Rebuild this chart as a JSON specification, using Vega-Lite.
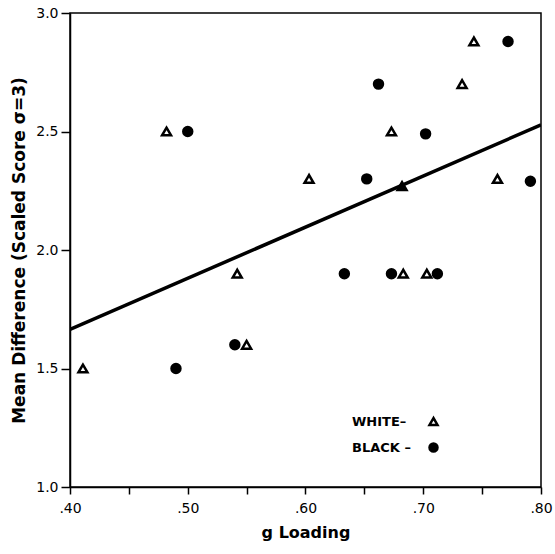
{
  "$schema": "https://vega.github.io/schema/vega-lite/v6.json",
  "width": 471,
  "height": 474,
  "autosize": {"type": "none"},
  "padding": {"left": 70, "top": 13, "right": 14, "bottom": 67},
  "background": "white",
  "config": {
    "view": {"stroke": "black", "strokeWidth": 1.5},
    "font": "DejaVu Sans",
    "legend": {
      "title": null,
      "orient": "none",
      "legendX": 357,
      "legendY": 402,
      "padding": 0,
      "labelFont": "DejaVu Sans",
      "labelFontSize": 13,
      "labelFontWeight": "bold",
      "labelColor": "black",
      "symbolOffset": 0,
      "labelOffset": -88,
      "labelAlign": "left",
      "rowPadding": 8,
      "symbolSize": 64,
      "symbolStrokeColor": "black",
      "symbolStrokeWidth": 2.5
    }
  },
  "datasets": {
    "pts": [
      {"x": 0.411, "y": 1.50, "group": "WHITE"},
      {"x": 0.482, "y": 2.50, "group": "WHITE"},
      {"x": 0.542, "y": 1.90, "group": "WHITE"},
      {"x": 0.550, "y": 1.60, "group": "WHITE"},
      {"x": 0.603, "y": 2.30, "group": "WHITE"},
      {"x": 0.673, "y": 2.50, "group": "WHITE"},
      {"x": 0.683, "y": 1.90, "group": "WHITE"},
      {"x": 0.682, "y": 2.27, "group": "WHITE"},
      {"x": 0.703, "y": 1.90, "group": "WHITE"},
      {"x": 0.733, "y": 2.70, "group": "WHITE"},
      {"x": 0.743, "y": 2.88, "group": "WHITE"},
      {"x": 0.763, "y": 2.30, "group": "WHITE"},
      {"x": 0.490, "y": 1.50, "group": "BLACK"},
      {"x": 0.500, "y": 2.50, "group": "BLACK"},
      {"x": 0.540, "y": 1.60, "group": "BLACK"},
      {"x": 0.633, "y": 1.90, "group": "BLACK"},
      {"x": 0.652, "y": 2.30, "group": "BLACK"},
      {"x": 0.662, "y": 2.70, "group": "BLACK"},
      {"x": 0.673, "y": 1.90, "group": "BLACK"},
      {"x": 0.702, "y": 2.49, "group": "BLACK"},
      {"x": 0.712, "y": 1.90, "group": "BLACK"},
      {"x": 0.772, "y": 2.88, "group": "BLACK"},
      {"x": 0.791, "y": 2.29, "group": "BLACK"}
    ],
    "fit": [
      {"x": 0.40, "y": 1.665},
      {"x": 0.80, "y": 2.528}
    ]
  },
  "encoding": {
    "x": {
      "field": "x",
      "type": "quantitative",
      "scale": {"domain": [0.4, 0.8], "nice": false, "zero": false},
      "axis": {
        "title": "g Loading",
        "values": [0.40, 0.45, 0.50, 0.55, 0.60, 0.65, 0.70, 0.75, 0.80],
        "labelExpr": "round(datum.value * 100) % 10 == 0 ? substring(format(datum.value, '.2f'), 1) : ''",
        "grid": false,
        "domainColor": "black",
        "domainWidth": 1.5,
        "tickColor": "black",
        "tickWidth": 1.5,
        "tickSize": 7,
        "labelColor": "black",
        "labelFont": "DejaVu Sans",
        "labelFontSize": 14,
        "labelPadding": 7,
        "labelFlush": false,
        "titleColor": "black",
        "titleFont": "DejaVu Sans",
        "titleFontSize": 16,
        "titleFontWeight": "bold",
        "titlePadding": 9
      }
    },
    "y": {
      "field": "y",
      "type": "quantitative",
      "scale": {"domain": [1.0, 3.0], "nice": false, "zero": false},
      "axis": {
        "title": "Mean Difference (Scaled Score σ=3)",
        "values": [1.0, 1.5, 2.0, 2.5, 3.0],
        "format": ".1f",
        "grid": false,
        "domainColor": "black",
        "domainWidth": 1.5,
        "tickColor": "black",
        "tickWidth": 1.5,
        "tickSize": 9,
        "labelColor": "black",
        "labelFont": "DejaVu Sans",
        "labelFontSize": 14,
        "labelPadding": 3,
        "labelFlush": false,
        "titleColor": "black",
        "titleFont": "DejaVu Sans",
        "titleFontSize": 17,
        "titleFontWeight": "bold",
        "titlePadding": 7
      }
    }
  },
  "layer": [
    {
      "data": {"name": "fit"},
      "mark": {"type": "line", "color": "black", "strokeWidth": 3.5, "clip": true}
    },
    {
      "data": {"name": "pts"},
      "mark": {"type": "point", "filled": true, "strokeWidth": 2.5, "opacity": 1, "size": 80},
      "encoding": {
        "shape": {
          "field": "group",
          "type": "nominal",
          "scale": {"domain": ["WHITE", "BLACK"], "range": ["triangle-up", "circle"]},
          "legend": {"labelExpr": "datum.label == 'WHITE' ? 'WHITE–' : 'BLACK –'"}
        },
        "fill": {
          "field": "group",
          "type": "nominal",
          "scale": {"domain": ["WHITE", "BLACK"], "range": ["white", "black"]},
          "legend": {"labelExpr": "datum.label == 'WHITE' ? 'WHITE–' : 'BLACK –'"}
        },
        "stroke": {
          "field": "group",
          "type": "nominal",
          "scale": {"domain": ["WHITE", "BLACK"], "range": ["black", "black"]},
          "legend": {"labelExpr": "datum.label == 'WHITE' ? 'WHITE–' : 'BLACK –'"}
        }
      }
    },
    {
      "data": {"name": "pts"},
      "transform": [{"filter": "datum.x == 0.682 && datum.y == 2.27"}],
      "mark": {"type": "point", "shape": "triangle-up", "filled": true, "color": "black", "size": 100, "opacity": 1}
    }
  ]
}
